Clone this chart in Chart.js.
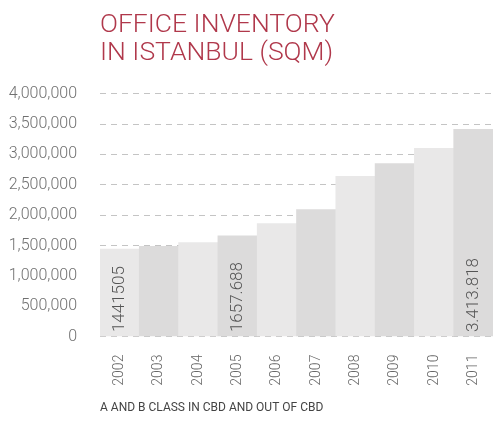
<!DOCTYPE html>
<html>
<head>
<meta charset="utf-8">
<script src="https://cdn.jsdelivr.net/npm/chart.js@4"></script>
<style>
  html, body { margin: 0; padding: 0; background: #fff; }
  #wrap { width: 493px; height: 426px; }
</style>
</head>
<body>
<div id="wrap"><canvas id="inventoryChart" width="493" height="426"></canvas></div>
<script>
const years = ["2002", "2003", "2004", "2005", "2006", "2007", "2008", "2009", "2010", "2011"];
const inventory = [1441505, 1485000, 1550000, 1657688, 1860000, 2090000, 2640000, 2850000, 3100000, 3413818];
// printed values shown inside some bars (null = no label)
const barLabels = ["1441505", null, null, "1657.688", null, null, null, null, null, "3.413.818"];
const yTicks = [0, 500000, 1000000, 1500000, 2000000, 2500000, 3000000, 3500000, 4000000];
const titleLines = ["OFFICE INVENTORY", "IN ISTANBUL (SQM)"];
const footNote = "A AND B CLASS IN CBD AND OUT OF CBD";

const barColors = years.map((y, i) => (i % 2 === 0 ? "#e9e8e8" : "#dcdbdb"));

// write the printed value vertically at the foot of the bar
const insideLabels = {
  id: "insideLabels",
  afterDatasetsDraw(chart) {
    const ctx = chart.ctx;
    const meta = chart.getDatasetMeta(0);
    ctx.save();
    ctx.font = "300 17px Roboto";
    ctx.fillStyle = "#555";
    ctx.textAlign = "left";
    ctx.textBaseline = "middle";
    meta.data.forEach((bar, i) => {
      if (!barLabels[i]) return;
      ctx.save();
      ctx.translate(bar.x, bar.base - 4);
      ctx.rotate(-Math.PI / 2);
      ctx.fillText(barLabels[i], 0, 0);
      ctx.restore();
    });
    ctx.restore();
  },
};

new Chart(document.getElementById("inventoryChart"), {
  type: "bar",
  data: {
    labels: years,
    datasets: [
      {
        data: inventory,
        backgroundColor: barColors,
        borderWidth: 0,
        barPercentage: 1,
        categoryPercentage: 1,
      },
    ],
  },
  options: {
    responsive: false,
    animation: false,
    devicePixelRatio: 1,
    layout: { padding: { left: 0, right: 0, top: 0, bottom: 11 } },
    plugins: {
      legend: { display: false },
      tooltip: { enabled: false },
      title: {
        display: true,
        text: titleLines,
        align: "start",
        fullSize: false,
        color: "#b0384b",
        font: { family: "Roboto", size: 26.5, weight: "300", lineHeight: 1.07 },
        padding: { top: 11, bottom: 26 },
      },
      subtitle: {
        display: true,
        text: footNote,
        position: "bottom",
        align: "start",
        fullSize: false,
        color: "#444",
        font: { family: "Roboto", size: 12, weight: "400" },
        padding: { top: 7, bottom: 0 },
      },
    },
    scales: {
      x: {
        afterFit(scale) {
          // let the bars run to the right edge
          scale.paddingLeft = 0;
          scale.paddingRight = 0;
          scale.height = 57;
        },
        grid: { display: false, drawTicks: false },
        border: { display: false },
        ticks: {
          color: "#666",
          font: { family: "Roboto", size: 14, weight: "300" },
          minRotation: 90,
          maxRotation: 90,
          padding: 18,
        },
      },
      y: {
        min: 0,
        max: 4000000,
        afterFit(scale) {
          scale.width = 100;
        },
        afterBuildTicks(scale) {
          scale.ticks = yTicks.map((v) => ({ value: v }));
        },
        grid: {
          color: "#c4c4c4",
          lineWidth: 1,
          drawTicks: false,
        },
        border: { display: false, dash: [6, 5] },
        ticks: {
          color: "#707070",
          font: { family: "Roboto", size: 16, weight: "300" },
          padding: 23,
          callback: (v) => v.toLocaleString("en-US"),
        },
      },
    },
  },
  plugins: [insideLabels],
});
</script>
</body>
</html>
